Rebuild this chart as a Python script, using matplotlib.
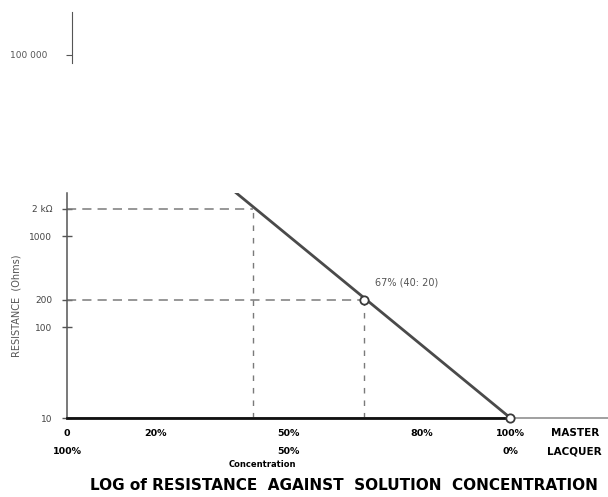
import numpy as np
import matplotlib.pyplot as plt
from matplotlib.ticker import FixedLocator, NullLocator

# line of resistance vs concentration (log scale)
conc = [0, 100]
resistance = [100000, 10]

# marked points on the line
mark_conc = [67, 100]
mark_res = [200, 10]

# dashed reading guides
guide_conc = [42, 67]
guide_res = [2000, 200]

ytick_vals = [10, 100, 200, 1000, 2000]
ytick_labels = ['10', '100', '200', '1000', '2 k\u03a9']
top_tick_vals = [100000]
top_tick_labels = ['100 000']

xtick_vals = [0, 20, 50, 80, 100]
xtick_row1 = ['0', '20%', '50%', '80%', '100%']
xtick_row2 = ['100%', '', '50%', '', '0%']

W, H = 608, 497
fig = plt.figure(figsize=(W / 100, H / 100), dpi=100)

def frac(x0, y0, x1, y1):
    return [x0 / W, 1 - y1 / H, (x1 - x0) / W, (y1 - y0) / H]

ax = fig.add_axes(frac(67, 193, 608, 418))
ax_top = fig.add_axes(frac(72, 12, 110, 63))

ink = '#3a3a3a'
grey = '#7a7a7a'

# main axes
ax.set_yscale('log')
ax.set_xlim(0, 122)
ax.set_ylim(10, 2970)

ax.plot(conc, resistance, color='#4a4a4a', lw=2)
for c, r in zip(guide_conc, guide_res):
    ax.plot([0, c], [r, r], color=grey, lw=1.1, ls=(0, (6, 4)))
    ax.plot([c, c], [ax.get_ylim()[0], r], color=grey, lw=1.0, ls=(0, (4, 5)))
ax.plot([conc[0], conc[-1]], [resistance[-1], resistance[-1]], color='#111111', lw=2, clip_on=False, zorder=4)
ax.plot(mark_conc, mark_res, 'o', ms=6, mfc='white', mec=ink, mew=1.3, clip_on=False, zorder=5)
ax.annotate('67% (40: 20)', xy=(mark_conc[0], mark_res[0]), xytext=(8, 10),
            textcoords='offset points', fontsize=7, color='#555555')

for s in ['top', 'right']:
    ax.spines[s].set_visible(False)
ax.spines['left'].set_color('#555555')
ax.spines['left'].set_linewidth(1.1)
ax.spines['bottom'].set_color('#999999')
ax.spines['bottom'].set_linewidth(1.3)

ax.yaxis.set_major_locator(FixedLocator(ytick_vals))
ax.yaxis.set_minor_locator(NullLocator())
ax.set_yticklabels(ytick_labels)
ax.tick_params(axis='y', direction='inout', length=7, width=1, color='#555555',
               labelsize=6.5, labelcolor='#444444', pad=7)
ax.set_ylabel('RESISTANCE  (Ohms)', fontsize=7, color='#555555', labelpad=6)

ax.set_xticks(xtick_vals)
ax.set_xticklabels([a + '\n' + b for a, b in zip(xtick_row1, xtick_row2)],
                   fontsize=6.8, fontweight='bold', linespacing=2.2, va='top')
ax.tick_params(axis='x', length=0, pad=8)
ax.text(114.5, -0.045, 'MASTER\nLACQUER', transform=ax.get_xaxis_transform(),
        ha='center', va='top', fontsize=7.5, fontweight='bold', linespacing=2.1)
ax.text(44, -0.185, 'Concentration', transform=ax.get_xaxis_transform(),
        ha='center', va='top', fontsize=6, fontweight='bold')

# top fragment of the axis
ax_top.set_yscale('log')
ax_top.set_ylim(81600, 297000)
ax_top.set_xlim(0, 1)
for s in ['top', 'right', 'bottom']:
    ax_top.spines[s].set_visible(False)
ax_top.spines['left'].set_color('#555555')
ax_top.set_xticks([])
ax_top.yaxis.set_major_locator(FixedLocator(top_tick_vals))
ax_top.yaxis.set_minor_locator(NullLocator())
ax_top.set_yticklabels(top_tick_labels)
ax_top.tick_params(axis='y', length=4, color='#555555', labelsize=6.5, labelcolor='#555555', pad=14)
ax_top.patch.set_alpha(0)

fig.text(344 / W, 1 - 485 / H, 'LOG of RESISTANCE  AGAINST  SOLUTION  CONCENTRATION',
         ha='center', va='center', fontsize=11, fontweight='bold')

plt.savefig('out.png', dpi=100)
